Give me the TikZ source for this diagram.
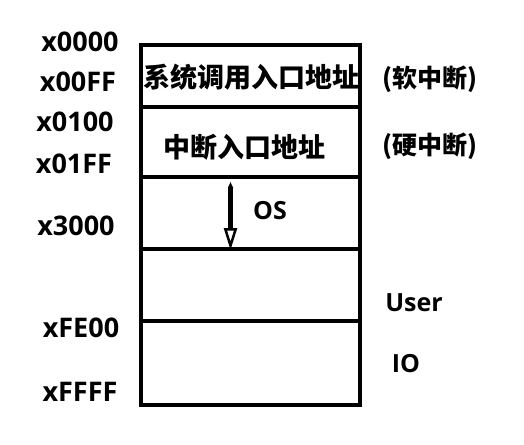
\documentclass[tikz,border=0pt]{standalone}
\usepackage{fontspec}
\setmainfont{Open Sans}
\newfontfamily\cjk{Noto Sans CJK SC}
\usetikzlibrary{positioning,arrows.meta}

\tikzset{
  seg/.style={draw, line width=4pt, minimum width=219pt, outer sep=0pt, inner sep=0pt},
  addr/.style={font=\fontsize{27}{30}\selectfont\bfseries},
  tag/.style={font=\fontsize{25}{28}\selectfont\bfseries},
  note/.style={font=\cjk\fontsize{25}{28}\selectfont\bfseries},
  inbox/.style={font=\cjk\fontsize{27}{30}\selectfont\bfseries},
  flow/.style={line width=5pt, {Triangle[length=6pt,width=5pt]}-{Triangle[open,length=22pt,width=13pt,line width=2.5pt]}},
}

\begin{document}
\begin{tikzpicture}[x=1pt,y=-1pt]
  \useasboundingbox (0,0) rectangle (524,444);

  % memory segments
  \node[seg, minimum height=62pt, anchor=north west] (sys) at (141,45) {};
  \node[seg, minimum height=70pt, below=0pt of sys] (intr) {};
  \node[seg, minimum height=72pt, below=0pt of intr] (os) {};
  \node[seg, minimum height=72pt, below=0pt of os] (user) {};
  \node[seg, minimum height=84pt, below=0pt of user] (io) {};

  \node[inbox] (systxt) at (251,77) {系统调用入口地址};
  \node[inbox] (intrtxt) at (244,147) {中断入口地址};
  \node[tag] (ostxt) at (270,211) {OS};
  \draw[flow] ([xshift=-20pt,yshift=-5pt]os.north) -- ([xshift=-20pt,yshift=-1pt]os.south);

  % addresses
  \foreach \x/\y/\t in {80/42/x0000, 78/82/x00FF, 75/122/x0100, 74/164/x01FF,
                        76/226/x3000, 81/328/xFE00, 80/392/xFFFF}{
    \node[addr] (a\t) at (\x,\y) {\t};
  }

  \node[note] (soft) at (430,79) {(软中断)};
  \node[note] (hard) at (430,146) {(硬中断)};
  \node[tag] (usertxt) at (414,303) {User};
  \node[tag] (iotxt) at (406,364) {IO};
\end{tikzpicture}
\end{document}
